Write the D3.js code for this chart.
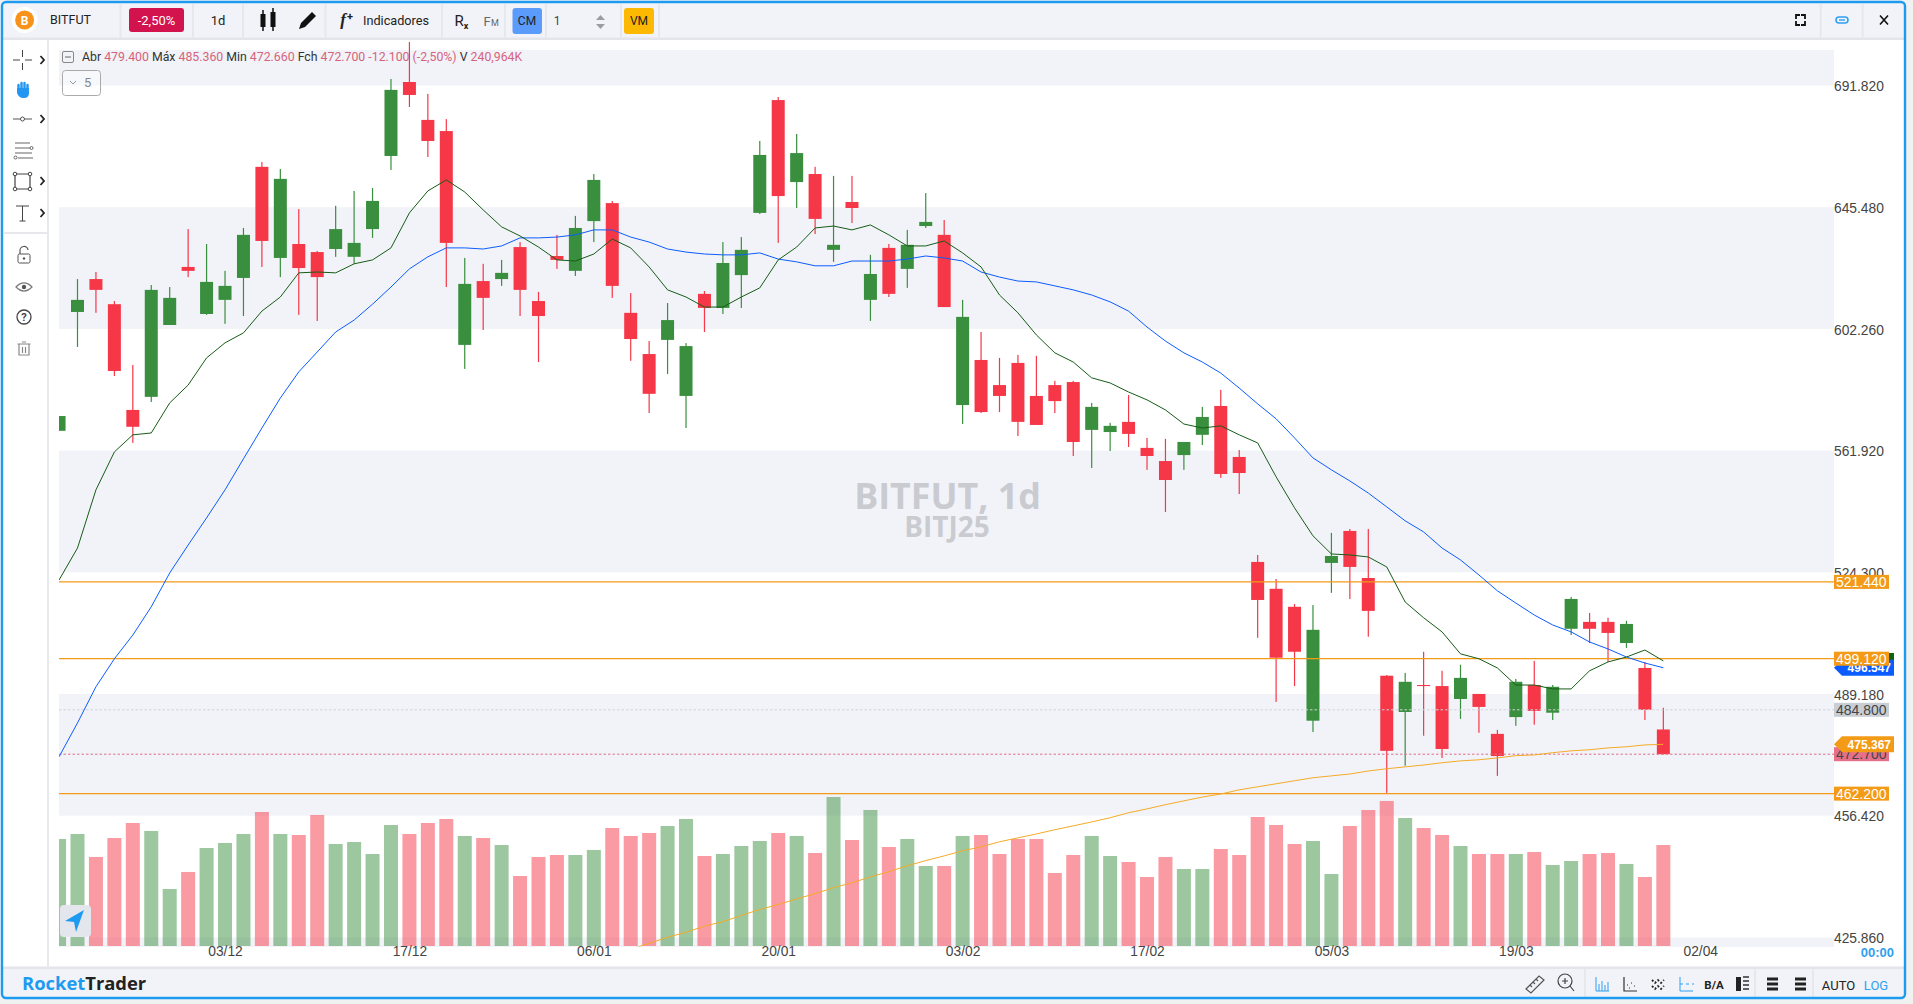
<!DOCTYPE html>
<html>

<head>
  <meta charset="UTF-8">
  <script src="https://d3js.org/d3.v7.js"></script>
  <style>
    body { margin: 0; background: #f0f1f1; overflow: hidden; }
    svg { display: block; }
    text { font-family: "Liberation Sans", Arial, sans-serif; }
  </style>
</head>

<body>
  <div id="chart"></div>

  <script>
    // data, one entry per daily bar

    const opens = [
      568.3, 608.1, 619.6, 610.8, 575.1, 579.4, 603.6, 623.9, 607.4, 612.3,
      620.0, 660.5, 627.1, 632.1, 629.2, 630.3, 627.5, 637.5, 664.6, 693.2,
      678.4, 674.1, 596.8, 618.9, 619.6, 631.0, 611.9, 627.8, 622.5, 640.4,
      647.0, 607.8, 593.7, 598.5, 579.7, 614.4, 609.5, 621.0, 643.4, 686.1,
      654.8, 657.8, 630.0, 647.4, 612.3, 630.7, 623.2, 638.6, 635.4, 576.7,
      591.7, 583.3, 590.7, 579.7, 583.3, 584.3, 568.6, 567.9, 571.2, 562.8,
      558.6, 560.5, 567.0, 576.4, 559.9, 527.4, 519.4, 514.1, 481.8, 527.1,
      536.8, 522.6, 494.3, 484.2, 491.7, 491.4, 487.8, 489.2, 478.2, 482.8,
      491.7, 484.0, 507.7, 509.7, 509.7, 503.6, 496.5, 479.4
    ];
    const highs = [
      573.1, 619.6, 622.1, 611.9, 590.0, 617.5, 616.8, 637.5, 632.1, 622.5,
      637.9, 662.3, 659.7, 644.8, 629.6, 646.0, 651.5, 652.6, 694.4, 709.2,
      688.5, 678.7, 627.1, 625.0, 626.4, 632.8, 615.1, 635.4, 642.3, 657.8,
      647.8, 614.7, 598.1, 611.2, 597.4, 615.4, 632.8, 634.6, 670.3, 687.3,
      673.0, 660.5, 657.1, 657.1, 628.2, 632.1, 637.2, 650.7, 640.8, 612.3,
      601.2, 592.4, 593.4, 593.1, 584.7, 584.7, 577.4, 570.9, 580.0, 566.0,
      565.7, 564.7, 576.1, 581.7, 562.1, 529.5, 522.3, 514.9, 514.6, 536.2,
      537.4, 537.4, 494.5, 495.1, 501.1, 495.7, 497.4, 489.2, 479.3, 493.4,
      498.5, 491.7, 517.0, 512.3, 510.9, 510.0, 498.2, 485.36
    ];
    const lows = [
      568.3, 596.1, 607.8, 586.3, 564.4, 577.7, 603.6, 620.3, 607.1, 604.0,
      606.7, 623.9, 620.3, 607.1, 605.0, 627.5, 625.0, 634.3, 659.3, 683.4,
      664.2, 616.8, 588.7, 601.9, 617.2, 606.7, 591.0, 623.2, 620.7, 632.8,
      613.0, 591.4, 574.1, 587.0, 569.2, 601.2, 607.4, 609.5, 643.0, 632.5,
      645.2, 635.7, 625.7, 639.7, 605.0, 613.3, 616.5, 637.9, 609.8, 570.5,
      574.1, 574.4, 566.6, 570.2, 574.1, 560.2, 556.4, 561.8, 563.1, 555.8,
      542.6, 555.8, 563.7, 553.3, 548.2, 505.1, 487.0, 491.4, 478.7, 518.2,
      516.4, 505.4, 462.4, 469.6, 477.7, 471.7, 482.3, 478.5, 466.9, 480.4,
      480.7, 482.0, 505.9, 503.6, 498.2, 502.2, 482.0, 472.66
    ];
    const closes = [
      573.1, 612.3, 615.8, 588.0, 569.6, 615.8, 613.0, 622.5, 618.6, 617.2,
      635.4, 633.2, 656.0, 623.5, 620.3, 637.5, 632.5, 647.8, 690.1, 688.1,
      670.3, 632.5, 617.9, 613.0, 621.8, 615.8, 606.7, 626.4, 637.9, 655.6,
      617.2, 598.8, 580.4, 605.3, 596.4, 609.5, 625.3, 630.0, 665.0, 649.6,
      665.7, 641.2, 631.8, 645.2, 621.4, 614.4, 631.8, 640.1, 609.8, 606.4,
      574.4, 579.7, 571.2, 570.2, 578.0, 564.7, 576.1, 569.9, 567.3, 560.2,
      552.6, 564.7, 572.8, 554.5, 554.8, 516.1, 499.4, 501.1, 507.4, 529.2,
      525.9, 512.9, 473.6, 492.6, 491.4, 474.1, 493.7, 485.6, 472.2, 492.6,
      484.5, 491.2, 516.4, 507.7, 506.5, 509.1, 484.8, 472.7
    ];
    // volume, in thousands
    const volumes = [
      255300, 267200, 212400, 257700, 293500, 274400, 136000, 176600, 233800, 245800,
      267200, 319700, 267200, 264800, 312600, 243400, 248100, 219500, 288700, 267200,
      293500, 303000, 262500, 257700, 241000, 167000, 212400, 217100, 217100, 229100,
      281500, 262500, 269600, 286300, 303000, 214700, 219500, 238600, 250500, 269600,
      262500, 221900, 355500, 252900, 324500, 236200, 255300, 190900, 190900, 262500,
      264800, 219500, 255300, 255300, 174200, 217100, 262500, 214700, 200400, 164600,
      212400, 183700, 183700, 231400, 217100, 307800, 288700, 243400, 250500, 171800,
      286300, 324500, 346000, 305400, 281500, 264800, 238600, 219500, 219500, 219500,
      224300, 193300, 202800, 219500, 221900, 195700, 164600, 240964
    ];
    const fastAvg = [
      522.0, 531.6, 549.5, 561.5, 567.0, 567.6, 577.4, 583.3, 592.4, 597.5,
      600.9, 608.4, 613.3, 621.8, 622.1, 621.8, 625.0, 626.4, 630.7, 643.4,
      651.5, 655.6, 651.1, 644.5, 638.3, 635.0, 631.0, 626.4, 626.0, 628.5,
      633.9, 630.7, 623.9, 615.8, 613.3, 609.8, 609.8, 613.3, 616.5, 626.4,
      631.0, 637.9, 638.6, 637.2, 639.0, 635.4, 631.4, 631.4, 633.2, 628.9,
      623.9, 614.0, 607.8, 600.2, 594.1, 591.0, 585.7, 584.0, 581.0, 578.4,
      575.1, 570.5, 569.2, 569.9, 567.0, 564.4, 553.6, 543.9, 535.3, 529.8,
      529.5, 528.9, 525.9, 515.5, 510.9, 506.8, 500.5, 499.1, 496.5, 491.7,
      491.7, 490.6, 490.6, 495.7, 498.2, 499.6, 501.6, 498.5
    ];
    const slowAvg = [
      472.0, 481.2, 491.2, 499.1, 505.9, 514.1, 524.1, 532.5, 540.8, 549.5,
      559.3, 569.2, 579.0, 587.7, 594.4, 601.2, 605.3, 610.8, 616.8, 623.2,
      627.5, 630.7, 630.7, 630.3, 631.4, 634.3, 634.3, 634.6, 635.4, 637.2,
      637.2, 634.6, 632.8, 630.3, 629.2, 628.5, 628.2, 628.2, 628.9, 626.7,
      625.7, 624.3, 624.3, 626.0, 626.0, 626.0, 626.7, 627.8, 627.1, 626.0,
      622.1, 620.3, 618.9, 618.6, 617.2, 615.8, 614.0, 611.6, 608.4, 602.9,
      598.1, 594.1, 591.0, 587.3, 582.3, 577.1, 572.2, 566.0, 559.6, 555.8,
      552.3, 548.5, 544.2, 539.9, 536.5, 531.6, 528.0, 523.5, 518.8, 515.2,
      511.7, 508.8, 506.8, 503.9, 501.9, 499.6, 497.9, 496.547
    ];
    // long average only comes into view from bar 31
    const longAvgStart = 31;
    const longAvg = [
      423.0, 424.4, 425.9, 427.1, 428.6, 429.7, 431.2, 432.7, 433.9, 435.3,
      436.6, 438.1, 439.3, 440.8, 442.1, 443.6, 444.9, 446.1, 447.4, 448.4,
      449.7, 450.7, 451.7, 452.8, 453.8, 454.8, 455.9, 457.2, 458.2, 459.3,
      460.3, 461.3, 462.1, 463.2, 464.0, 464.8, 465.6, 466.4, 466.9, 467.4,
      468.2, 468.8, 469.3, 469.8, 470.4, 470.9, 471.2, 471.7, 472.3, 472.5,
      473.1, 473.6, 473.9, 474.4, 474.7, 475.2, 475.367
    ];

    const priceTicks = [691.82, 645.48, 602.26, 561.92, 524.3, 489.18, 456.42, 425.86];
    const dateLabels = ['03/12', '17/12', '06/01', '20/01', '03/02', '17/02', '05/03', '19/03', '02/04'];
    const levels = [521.44, 499.12, 462.2];
    const prevClose = 484.8;
    const lastClose = 472.7;
    const legend = [
      ['Abr ', '479.400'], [' Máx ', '485.360'], [' Min ', '472.660'], [' Fch ', '472.700 -12.100 (-2,50%)'], [' V ', '240,964K']
    ];

    // set up

    const W = 1913, H = 1004;
    const plot = { left: 59, right: 1834, top: 40, bottom: 946.5 };
    const up = '#3a8f3f', down = '#f53748';
    const bandFill = '#f2f3f8', orange = '#f39a17', ink = '#333';

    const svg = d3.select('#chart').append('svg').attr('width', W).attr('height', H);

    svg.append('defs').append('clipPath').attr('id', 'plot')
      .append('rect')
        .attr('x', plot.left).attr('y', plot.top)
        .attr('width', plot.right - plot.left).attr('height', plot.bottom - plot.top);

    // scales

    const bars = d3.range(closes.length);
    const x = d3.scaleLinear().domain([0, 89]).range([59.06, 59.06 + 89 * 18.44]);
    const y = d3.scaleLog().domain([425.86, 691.82]).range([937.4, 85.5]);
    const vol = d3.scaleLinear().domain([0, 240964]).range([946, 845]);
    const isUp = i => closes[i] >= opens[i];

    // frame

    svg.append('rect').attr('x', 2).attr('y', 2).attr('width', 1903).attr('height', 996)
      .attr('rx', 4).attr('fill', '#fff');
    svg.append('rect').attr('x', 3).attr('y', 3).attr('width', 1901).attr('height', 36).attr('fill', bandFill);
    svg.append('rect').attr('x', 3).attr('y', 968).attr('width', 1901).attr('height', 29).attr('fill', bandFill);
    svg.append('rect').attr('x', 3).attr('y', 37.5).attr('width', 1901).attr('height', 2.5).attr('fill', '#e3e5ea');
    svg.append('rect').attr('x', 3).attr('y', 966.5).attr('width', 1901).attr('height', 2.5).attr('fill', '#e3e5ea');
    svg.append('rect').attr('x', 47).attr('y', 40).attr('width', 2).attr('height', 927).attr('fill', '#e6e8ec');

    // alternate bands between price ticks

    const bandEdges = [[50, y(priceTicks[0])], [y(priceTicks[1]), y(priceTicks[2])], [y(priceTicks[3]), y(priceTicks[4])], [y(priceTicks[5]), y(priceTicks[6])], [y(priceTicks[7]), 947]];
    svg.append('g').selectAll('rect').data(bandEdges).join('rect')
      .attr('x', plot.left).attr('width', plot.right - plot.left)
      .attr('y', d => d[0])
      .attr('height', d => d[1] - d[0])
      .attr('fill', bandFill);

    // watermark

    svg.append('text').attr('x', 947.5).attr('y', 509).attr('text-anchor', 'middle')
      .style('font-family', '"Open Sans"').style('font-weight', 700).style('font-size', '35.8px')
      .attr('fill', '#c9cbd0').text('BITFUT, 1d');
    svg.append('text').attr('x', 947).attr('y', 537).attr('text-anchor', 'middle')
      .style('font-family', '"Open Sans"').style('font-weight', 700).style('font-size', '28px')
      .attr('fill', '#c9cbd0').text('BITJ25');

    // axes

    const yAxis = d3.axisRight(y).tickValues(priceTicks).tickFormat(d3.format('.3f')).tickSize(0).tickPadding(0);
    svg.append('g').attr('transform', `translate(${plot.right},0.8)`).call(yAxis)
      .call(g => g.select('.domain').remove())
      .call(g => g.selectAll('text').attr('fill', '#444').style('font-size', '13.8px').style('font-family', '"Liberation Sans"'));

    const xAxis = d3.axisBottom(x).tickValues(dateLabels.map((_, k) => 9 + k * 10))
      .tickFormat((_, k) => dateLabels[k]).tickSize(0).tickPadding(0);
    svg.append('g').attr('transform', 'translate(0,946)').call(xAxis)
      .call(g => g.select('.domain').remove())
      .call(g => g.selectAll('text').attr('fill', '#444').style('font-size', '13.8px').style('font-family', '"Liberation Sans"'));

    const chart = svg.append('g').attr('clip-path', 'url(#plot)');

    // volume

    chart.append('g').selectAll('rect').data(bars).join('rect')
      .attr('x', i => x(i) - 7)
      .attr('width', 14)
      .attr('y', i => vol(volumes[i]))
      .attr('height', i => vol(0) - vol(volumes[i]))
      .attr('fill', i => isUp(i) ? up : down)
      .attr('opacity', 0.5);

    // candles

    const candles = chart.append('g').selectAll('g').data(bars).join('g')
      .attr('fill', i => isUp(i) ? up : down);
    candles.append('rect')
      .attr('x', i => x(i) - 0.6).attr('width', 1.2)
      .attr('y', i => y(highs[i]))
      .attr('height', i => y(lows[i]) - y(highs[i]));
    candles.append('rect')
      .attr('x', i => x(i) - 6.5).attr('width', 13)
      .attr('y', i => y(Math.max(opens[i], closes[i])))
      .attr('height', i => Math.max(1, Math.abs(y(opens[i]) - y(closes[i]))));

    // levels and last closes

    chart.append('g').selectAll('line').data(levels).join('line')
      .attr('x1', plot.left).attr('x2', plot.right)
      .attr('y1', d => y(d)).attr('y2', d => y(d))
      .attr('stroke', orange).attr('stroke-width', 1.2);
    chart.append('line').attr('x1', plot.left).attr('x2', plot.right)
      .attr('y1', y(prevClose)).attr('y2', y(prevClose))
      .attr('stroke', '#d0d3d8').attr('stroke-dasharray', '2.5 2');
    chart.append('line').attr('x1', plot.left).attr('x2', plot.right)
      .attr('y1', y(lastClose)).attr('y2', y(lastClose))
      .attr('stroke', '#e0708a').attr('stroke-dasharray', '2.5 2');

    // moving averages

    const line = d3.line().x(d => x(d[0])).y(d => y(d[1]));
    const drawAvg = (values, start, color) => chart.append('path')
      .attr('d', line(values.map((v, i) => [i + start, v])))
      .attr('fill', 'none').attr('stroke', color).attr('stroke-width', 1);
    drawAvg(longAvg, longAvgStart, '#f4ab27');
    drawAvg(slowAvg, 0, '#0b5cff');
    drawAvg(fastAvg, 0, '#165c16');

    // value tags on the price axis

    const fmt = d3.format('.3f');
    function arrowTag(value, fill, textFill, textValue) {
      const c = y(value);
      const g = svg.append('g');
      g.append('path')
        .attr('d', `M${plot.right},${c} l8,-8 H1894 V${c + 8} H${plot.right + 8} Z`)
        .attr('fill', fill);
      if (textValue !== null) {
        g.append('text').attr('x', 1891).attr('y', c + 4.5).attr('text-anchor', 'end')
          .attr('fill', textFill).style('font-size', '12px').style('font-weight', 700)
          .text(fmt(value));
      }
    }
    function rectTag(value, fill, textFill) {
      const c = y(value);
      const g = svg.append('g');
      g.append('rect').attr('x', plot.right).attr('y', c - 7).attr('width', 55).attr('height', 14).attr('fill', fill);
      g.append('text').attr('x', plot.right + 2).attr('y', c + 5).attr('fill', textFill)
        .style('font-size', '14px').text(fmt(value));
    }
    arrowTag(fastAvg[fastAvg.length - 1], '#11620f', '#fff', null);
    arrowTag(slowAvg[slowAvg.length - 1], '#0b5cff', '#fff', true);
    rectTag(prevClose, '#c9cdd4', '#444');
    rectTag(lastClose, '#e6708a', '#444');
    arrowTag(longAvg[longAvg.length - 1], orange, '#fff', true);
    levels.forEach(d => rectTag(d, orange, '#fff'));

    svg.append('text').attr('x', 1894).attr('y', 957).attr('text-anchor', 'end')
      .attr('fill', '#2f9ff0').style('font-size', '13px').style('font-weight', 700).text('00:00');

    // legend row

    svg.append('rect').attr('x', 62.5).attr('y', 51.5).attr('width', 11).attr('height', 11).attr('rx', 1.5)
      .attr('fill', 'none').attr('stroke', '#888');
    svg.append('line').attr('x1', 65).attr('x2', 71).attr('y1', 57).attr('y2', 57).attr('stroke', '#666');
    const legendText = svg.append('text').attr('x', 82).attr('y', 61)
      .style('font-family', 'Roboto').style('font-size', '12.3px');
    legend.forEach(([k, v]) => {
      legendText.append('tspan').attr('fill', ink).attr('xml:space', 'preserve').text(k);
      legendText.append('tspan').attr('fill', '#d6637c').text(v);
    });
    svg.append('rect').attr('x', 62.5).attr('y', 70.5).attr('width', 38).attr('height', 25).attr('rx', 3)
      .attr('fill', '#fff').attr('fill-opacity', 0.4).attr('stroke', '#aaa');
    svg.append('path').attr('d', 'M70,81 l3,3 l3,-3').attr('fill', 'none').attr('stroke', '#999');
    svg.append('text').attr('x', 84).attr('y', 87).attr('fill', '#888')
      .style('font-family', 'Roboto').style('font-size', '13px').text('5');

    // top toolbar

    const toolbarText = (px, py, str, opts = {}) => svg.append('text')
      .attr('x', px).attr('y', py)
      .attr('text-anchor', opts.anchor || 'middle')
      .attr('fill', opts.fill || '#222')
      .style('font-family', opts.font || 'Roboto')
      .style('font-size', (opts.size || 12) + 'px')
      .style('font-weight', opts.weight || 400)
      .text(str);
    const icon = (d, opts = {}) => svg.append('path').attr('d', d)
      .attr('fill', opts.fill || 'none')
      .attr('stroke', opts.stroke || (opts.fill ? 'none' : '#333'))
      .attr('stroke-width', opts.width || 1.2);

    [120.5, 193, 243, 325.5, 442, 505, 546, 621, 659, 1820.7, 1862.7].forEach(sx =>
      svg.append('rect').attr('x', sx - 1).attr('y', 4).attr('width', 2).attr('height', 34).attr('fill', '#e6e8ec'));

    svg.append('circle').attr('cx', 24.6).attr('cy', 20).attr('r', 13).attr('fill', '#fff');
    svg.append('circle').attr('cx', 24.6).attr('cy', 20).attr('r', 9.5).attr('fill', '#f7931a');
    toolbarText(24.6, 24.5, 'B', { fill: '#fff', size: 12, weight: 700 });
    toolbarText(50, 23.5, 'BITFUT', { anchor: 'start', size: 12.5 });

    svg.append('rect').attr('x', 129).attr('y', 8).attr('width', 55).attr('height', 24).attr('rx', 3).attr('fill', '#d3134d');
    toolbarText(156.5, 25, '-2,50%', { fill: '#fff', size: 13 });
    toolbarText(218, 25, '1d', { size: 13 });

    // candle type icon
    icon('M260.5,14 h5 v13 h-5 Z M270.5,12 h5 v15 h-5 Z', { fill: '#111' });
    icon('M263,10 v21 M273,8 v23', { stroke: '#111', width: 1.5 });
    // pencil
    icon('M299,29 l2,-6 l11,-11 l4,4 l-11,11 Z', { fill: '#111' });

    toolbarText(343, 25, 'f', { size: 17, font: '"Liberation Serif"', weight: 700 }).style('font-style', 'italic');
    toolbarText(350, 20, '+', { size: 11, weight: 700 });
    toolbarText(396, 25, 'Indicadores', { size: 12.7 });

    toolbarText(459, 26, 'R', { size: 15 });
    toolbarText(466, 29, 'x', { size: 9, weight: 700 });
    toolbarText(487, 26, 'F', { size: 13, fill: '#666' });
    toolbarText(495, 26, 'M', { size: 9, fill: '#666' });

    svg.append('rect').attr('x', 512.5).attr('y', 8).attr('width', 29.5).attr('height', 26).attr('rx', 3).attr('fill', '#5b9bfb');
    toolbarText(527, 25, 'CM', { size: 12 });
    toolbarText(557, 25, '1', { size: 12, fill: '#444' });
    icon('M596,20 l4.5,-5 l4.5,5 Z', { fill: '#9a9da3' });
    icon('M596,24 l4.5,5 l4.5,-5 Z', { fill: '#9a9da3' });
    svg.append('rect').attr('x', 624).attr('y', 8).attr('width', 30).attr('height', 26).attr('rx', 3).attr('fill', '#fdb900');
    toolbarText(639, 25, 'VM', { size: 12 });

    // fullscreen, link, close
    icon('M1796,19 v-4 h4 M1801,15 h4 v4 M1805,21 v4 h-4 M1800,25 h-4 v-4', { stroke: '#111', width: 1.8 });
    svg.append('rect').attr('x', 1836).attr('y', 17).attr('width', 12).attr('height', 6).attr('rx', 3)
      .attr('fill', 'none').attr('stroke', '#2f9ff0').attr('stroke-width', 1.6);
    icon('M1839,20 h6', { stroke: '#2f9ff0', width: 1.4 });
    icon('M1880,15.5 l8,9 M1888,15.5 l-8,9', { stroke: '#111', width: 1.6 });

    // left toolbar

    icon('M13,60 h7 M25,60 h7 M22.5,50 v7 M22.5,63 v7', { stroke: '#444', width: 1 });
    icon('M18.5,91 v-6 M21.5,91 v-8 M24.5,91 v-8 M27.5,91 v-6', { stroke: '#2196f3', width: 2.4 }).attr('stroke-linecap', 'round');
    icon('M17,88 h12 v5 q0,5 -5,5 h-1 q-4,0 -6,-5 Z', { fill: '#2196f3' });
    icon('M13,119 h19', { stroke: '#555', width: 1 });
    svg.append('circle').attr('cx', 22.5).attr('cy', 119).attr('r', 2).attr('fill', '#fff').attr('stroke', '#555');
    icon('M15,143 h15 M15,148 h15 M15,153 h17 M18,158 h15', { stroke: '#666', width: 1.2 });
    [[31.5, 148], [15.5, 157.5]].forEach(c =>
      svg.append('circle').attr('cx', c[0]).attr('cy', c[1]).attr('r', 1.5).attr('fill', '#fff').attr('stroke', '#666'));
    icon('M15,174 h15 v15 h-15 Z', { stroke: '#444', width: 1.2 });
    [[15, 174], [30, 174], [15, 189], [30, 189]].forEach(c =>
      svg.append('circle').attr('cx', c[0]).attr('cy', c[1]).attr('r', 1.8).attr('fill', '#fff').attr('stroke', '#444'));
    icon('M16,206 h13 M22.5,206 v15 M19.5,221 h6', { stroke: '#444', width: 1 });
    [60, 119, 181, 213].forEach(cy =>
      icon(`M40.5,${cy - 4} l3.5,4 l-3.5,4`, { stroke: '#222', width: 1.8 }));
    svg.append('rect').attr('x', 4).attr('y', 232).attr('width', 43).attr('height', 2).attr('fill', '#e6e8ec');

    svg.append('rect').attr('x', 18).attr('y', 254).attr('width', 12).attr('height', 9).attr('rx', 1.5).attr('fill', 'none').attr('stroke', '#555');
    icon('M20,254 v-3 a4,4 0 0 1 8,-1', { stroke: '#555' });
    svg.append('circle').attr('cx', 24).attr('cy', 258.5).attr('r', 1.2).attr('fill', '#555');
    icon('M16,287 q8,-8 16,0 q-8,8 -16,0 Z', { stroke: '#777' });
    svg.append('circle').attr('cx', 24).attr('cy', 287).attr('r', 2.2).attr('fill', '#555');
    svg.append('circle').attr('cx', 24).attr('cy', 317).attr('r', 7).attr('fill', 'none').attr('stroke', '#444').attr('stroke-width', 1.3);
    toolbarText(24, 321, '?', { size: 11, fill: '#444', weight: 700 });
    icon('M19,344 h10 v11 h-10 Z M17.5,344 h13 M22,342 h4 M22.5,347 v6 M25.5,347 v6', { stroke: '#888' });

    // navigation button
    svg.append('rect').attr('x', 60).attr('y', 905).attr('width', 31).attr('height', 32).attr('rx', 4).attr('fill', '#e3e6ec');
    icon('M84,910 l-8,22 l-2,-10 l-9,-1 Z', { fill: '#1e9bf0' });

    // bottom bar

    const brand = svg.append('text').attr('x', 22).attr('y', 990)
      .style('font-family', '"Open Sans"').style('font-weight', 700).style('font-size', '18.4px');
    brand.append('tspan').attr('fill', '#1d9bf0').text('Rocket');
    brand.append('tspan').attr('fill', '#222').text('Trader');

    [1585, 1755, 1813].forEach(sx =>
      svg.append('rect').attr('x', sx - 1).attr('y', 969).attr('width', 2).attr('height', 28).attr('fill', '#e6e8ec'));
    icon('M1526,989 l13,-13 l5,4 l-13,13 Z M1530,985 l2,2 M1533,982 l2,2 M1536,979 l2,2', { stroke: '#555' });
    svg.append('circle').attr('cx', 1565).attr('cy', 981).attr('r', 7).attr('fill', 'none').attr('stroke', '#444').attr('stroke-width', 1.2);
    icon('M1570,986 l4,5 M1562,981 h6 M1565,978 v6', { stroke: '#444' });
    icon('M1596,977 v14 h13 M1599,991 v-7 M1602,991 v-10 M1605,991 v-6 M1608,991 v-9', { stroke: '#2f9ff0', width: 1 });
    icon('M1624,977 v14 h13 M1627,985 h1 M1631,983 h1 M1634,986 h1 M1629,988 h1', { stroke: '#333', width: 1.2 });
    icon('M1652,980 l3,3 l3,-3 l3,3 l3,-3 M1652,986 l3,3 l3,-3 l3,3 l3,-3', { stroke: '#222', width: 1.8 }).attr('stroke-dasharray', '2 2');
    icon('M1680,977 v14 h13 M1680,984 h3 M1686,984 h3 M1692,984 h2', { stroke: '#2f9ff0', width: 1 });
    toolbarText(1714, 989, 'B/A', { size: 11.5, weight: 700 });
    icon('M1736,977 h5 v14 h-5 Z', { fill: '#222' });
    icon('M1743,977 h6 M1743,981 h6 M1743,985 h6 M1743,989 h6', { stroke: '#333', width: 1.5 });
    icon('M1767,979 h11 M1767,984 h11 M1767,989 h11', { stroke: '#222', width: 3 });
    icon('M1795,979 h11 M1795,984 h11 M1795,989 h11', { stroke: '#222', width: 3 });
    toolbarText(1838.5, 990, 'AUTO', { size: 13 });
    toolbarText(1876, 990, 'LOG', { size: 13, fill: '#2f9ff0' });

    // blue window border on top
    svg.append('rect').attr('x', 2).attr('y', 2).attr('width', 1903).attr('height', 996)
      .attr('rx', 4).attr('fill', 'none').attr('stroke', '#1d9bf0').attr('stroke-width', 2.4);
  </script>
</body>

</html>
